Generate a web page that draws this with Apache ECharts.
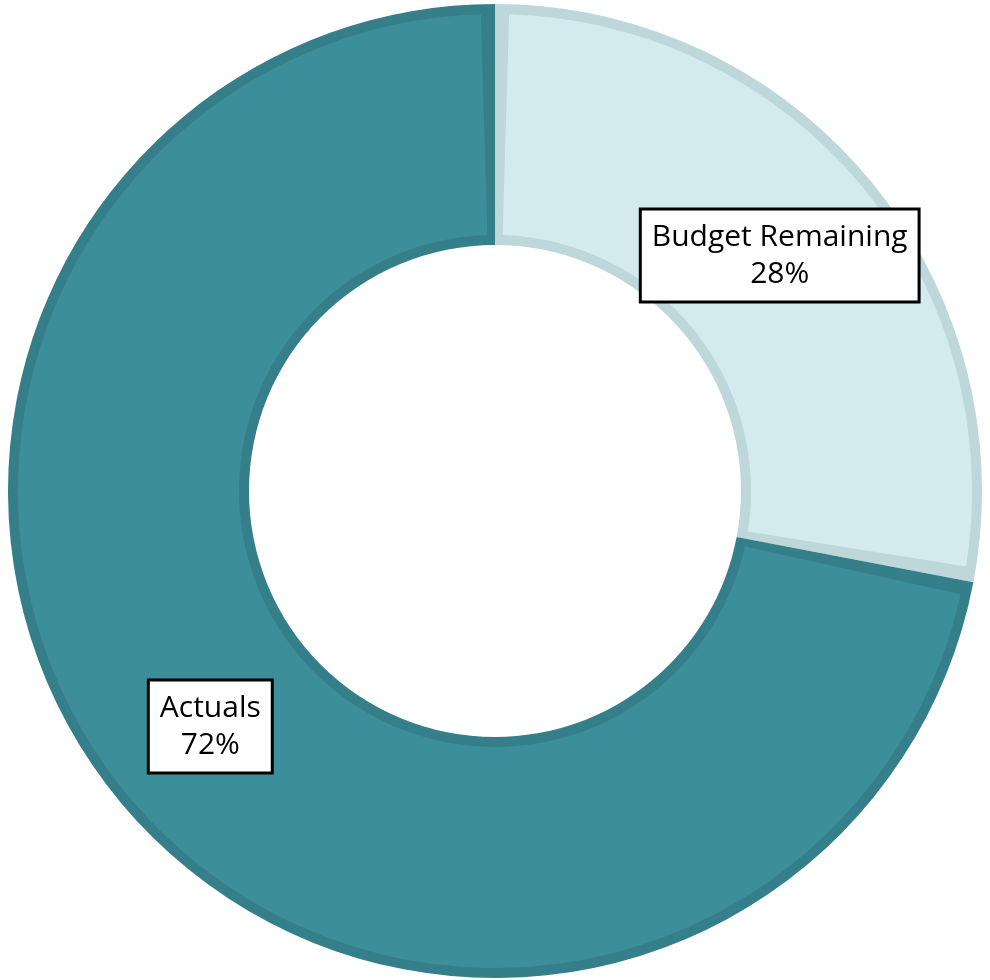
<!DOCTYPE html>
<html>
<head>
<meta charset="utf-8">
<script src="https://cdn.jsdelivr.net/npm/echarts@6/dist/echarts.min.js"></script>
<style>
  html, body { margin: 0; padding: 0; background: #ffffff; }
  #chart { width: 990px; height: 980px; }
</style>
</head>
<body>
<div id="chart"></div>
<script>
// Budget split shown as a donut
const categories = ['Budget Remaining', 'Actuals'];
const percentValues = [28, 72];
const fillColors = ['#D3EBEE', '#3D8E9B'];
const edgeColors = ['#BDD7DA', '#357F8A'];

const center = [495, 491];
const innerR = 246;
const outerR = 487;
const edge = 10;

const chart = echarts.init(document.getElementById('chart'), null, { renderer: 'canvas' });

const option = {
  backgroundColor: '#ffffff',
  animation: false,
  series: [
    {
      // darker rim under each slice
      type: 'pie',
      center: center,
      radius: [innerR, outerR],
      startAngle: 90,
      clockwise: true,
      silent: true,
      label: { show: false },
      labelLine: { show: false },
      data: categories.map((name, i) => ({
        name: name,
        value: percentValues[i],
        itemStyle: { color: edgeColors[i] }
      }))
    },
    {
      type: 'pie',
      center: center,
      radius: [innerR + edge, outerR - edge],
      startAngle: 90,
      clockwise: true,
      padAngle: 3.4,
      silent: true,
      labelLine: { show: false },
      label: {
        show: true,
        position: 'inside',
        formatter: (p) => p.name + '\n' + p.value + '%',
        color: '#000000',
        fontFamily: 'Open Sans',
        fontSize: 30,
        lineHeight: 37,
        align: 'center',
        backgroundColor: '#ffffff',
        borderColor: '#000000',
        borderWidth: 3,
        padding: [8, 10, 8, 10]
      },
      data: categories.map((name, i) => ({
        name: name,
        value: percentValues[i],
        itemStyle: { color: fillColors[i] }
      }))
    }
  ]
};

chart.setOption(option);
</script>
</body>
</html>
